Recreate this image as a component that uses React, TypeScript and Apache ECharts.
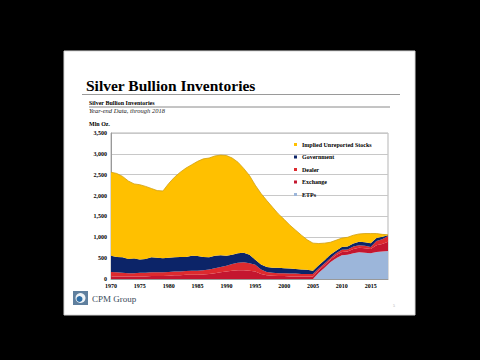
import React, { useEffect, useRef } from "react";
import * as echarts from "echarts";

const years: string[] = [];
for (let y = 1970; y <= 2018; y++) years.push(String(y));

const implied = [2000,2000,1940,1870,1790,1790,1740,1650,1610,1610,
  1780,1920,2030,2130,2180,2270,2350,2380,2390,2400,
  2400,2320,2180,2020,1900,1790,1700,1590,1450,1290,
  1170,1040,930,820,720,660,520,410,300,250,
  210,220,200,190,210,230,110,60,10];
const government = [390,370,370,340,350,320,330,360,350,340,
  340,340,350,340,360,350,320,290,300,280,
  240,220,230,230,200,120,120,120,120,130,
  120,120,110,110,100,80,80,80,80,60,
  70,70,70,80,80,90,70,60,20];
const dealer = [110,100,90,80,80,90,90,90,90,90,
  90,90,90,90,100,100,100,110,120,130,
  140,160,180,190,180,160,110,80,70,70,
  70,70,70,60,60,60,40,40,40,50,
  50,50,60,60,60,50,100,110,140];
const exchange = [60,60,60,60,60,60,60,70,70,70,
  80,90,90,100,100,100,110,120,140,160,
  180,200,210,210,200,180,120,90,80,70,
  70,60,60,60,60,60,60,60,60,70,
  80,80,100,110,110,100,160,180,220];
const etps = [0,0,0,0,0,0,0,0,0,0,
  0,0,0,0,0,0,0,0,0,0,
  0,0,0,0,0,0,0,0,0,0,
  0,0,0,0,0,0,150,270,400,500,
  570,580,620,640,630,620,650,660,670];

const legendOrder = ["Implied Unreported Stocks", "Government", "Dealer", "Exchange", "ETPs"];

const SERIF = "Liberation Serif";

export default function App() {
  const ref = useRef<HTMLDivElement>(null);
  useEffect(() => {
    if (!ref.current) return;
    const chart = echarts.init(ref.current, null, { renderer: "svg" });
    const mk = (name: string, data: number[], color: string, line?: any) => ({
      name,
      type: "line",
      stack: "total",
      data,
      symbol: "none",
      showSymbol: false,
      itemStyle: { color },
      lineStyle: line || { width: 0, color },
      areaStyle: { color, opacity: 1 },
      emphasis: { disabled: true },
    });
    chart.setOption({
      animation: false,
      backgroundColor: "#000",
      graphic: [
        { type: "rect", z: -10, shape: { x: 64, y: 51, width: 351, height: 264 }, style: { fill: "#fff", stroke: "#d8d8d8", lineWidth: 1 } },
        { type: "text", z: 10, x: 86, y: 85, style: { text: "Silver Bullion Inventories", font: `bold 15.5px "${SERIF}"`, fill: "#000", verticalAlign: "middle" } },
        { type: "line", z: 10, shape: { x1: 82, y1: 94.5, x2: 400, y2: 94.5 }, style: { stroke: "#9a9a9a", lineWidth: 1 } },
        { type: "text", z: 10, x: 89, y: 103, style: { text: "Silver Bullion Inventories", font: `bold 6px "${SERIF}"`, fill: "#000", verticalAlign: "middle" } },
        { type: "line", z: 10, shape: { x1: 89, y1: 107, x2: 390, y2: 107 }, style: { stroke: "#8a8a8a", lineWidth: 1 } },
        { type: "text", z: 10, x: 89, y: 110.5, style: { text: "Year-end Data, through 2018", font: `italic 6.5px "${SERIF}"`, fill: "#222", verticalAlign: "middle" } },
        { type: "text", z: 10, x: 89, y: 123.5, style: { text: "Mln Oz.", font: `bold 6px "${SERIF}"`, fill: "#000", verticalAlign: "middle" } },
        { type: "rect", z: 10, shape: { x: 73, y: 291, width: 15, height: 14 }, style: { fill: "#5f7f9e" } },
        { type: "circle", z: 11, shape: { cx: 80.5, cy: 298, r: 5 }, style: { fill: "#eef3f7" } },
        { type: "circle", z: 12, shape: { cx: 79.5, cy: 299, r: 3 }, style: { fill: "#2f6fa8" } },
        { type: "text", z: 10, x: 92, y: 298.5, style: { text: "CPM Group", font: `9px "${SERIF}"`, fill: "#3a4a5a", verticalAlign: "middle" } },
        { type: "text", z: 10, x: 393, y: 305, style: { text: "5", font: `4px "${SERIF}"`, fill: "#aaa", verticalAlign: "middle" } },
      ],
      grid: { left: 111, right: 92, top: 133, bottom: 81, show: true, borderColor: "#b5b5b5", borderWidth: 1, backgroundColor: "transparent" },
      legend: {
        data: legendOrder,
        orient: "vertical",
        left: 289,
        top: 136,
        itemWidth: 3,
        itemHeight: 3,
        itemGap: 5.5,
        icon: "rect",
        textStyle: { fontFamily: SERIF, fontWeight: "bold", fontSize: 6, color: "#000", lineHeight: 7 },
      },
      xAxis: {
        type: "category",
        data: years,
        boundaryGap: false,
        axisLine: { show: true, lineStyle: { color: "#999" } },
        axisTick: { show: false },
        axisLabel: { interval: 4, margin: 4, fontFamily: SERIF, fontWeight: "bold", fontSize: 6, color: "#000" },
        splitLine: { show: false },
      },
      yAxis: {
        type: "value",
        min: 0,
        max: 3500,
        interval: 500,
        axisLine: { show: true, lineStyle: { color: "#999" } },
        axisTick: { show: false },
        axisLabel: {
          margin: 4,
          fontFamily: SERIF,
          fontWeight: "bold",
          fontSize: 6,
          color: "#000",
          formatter: (v: number) => v.toLocaleString("en-US"),
        },
        splitLine: { show: true, lineStyle: { color: "#c8c8c8", width: 1 } },
      },
      series: [
        mk("ETPs", etps, "#9cb6da"),
        mk("Exchange", exchange, "#c4162f"),
        mk("Dealer", dealer, "#dd2a2e"),
        mk("Government", government, "#0c2468"),
        mk("Implied Unreported Stocks", implied, "#ffc000", { width: 0.8, color: "#d0a010" }),
      ],
    });
    return () => chart.dispose();
  }, []);
  return <div ref={ref} style={{ width: 480, height: 360, position: "absolute", left: 0, top: 0 }} />;
}
